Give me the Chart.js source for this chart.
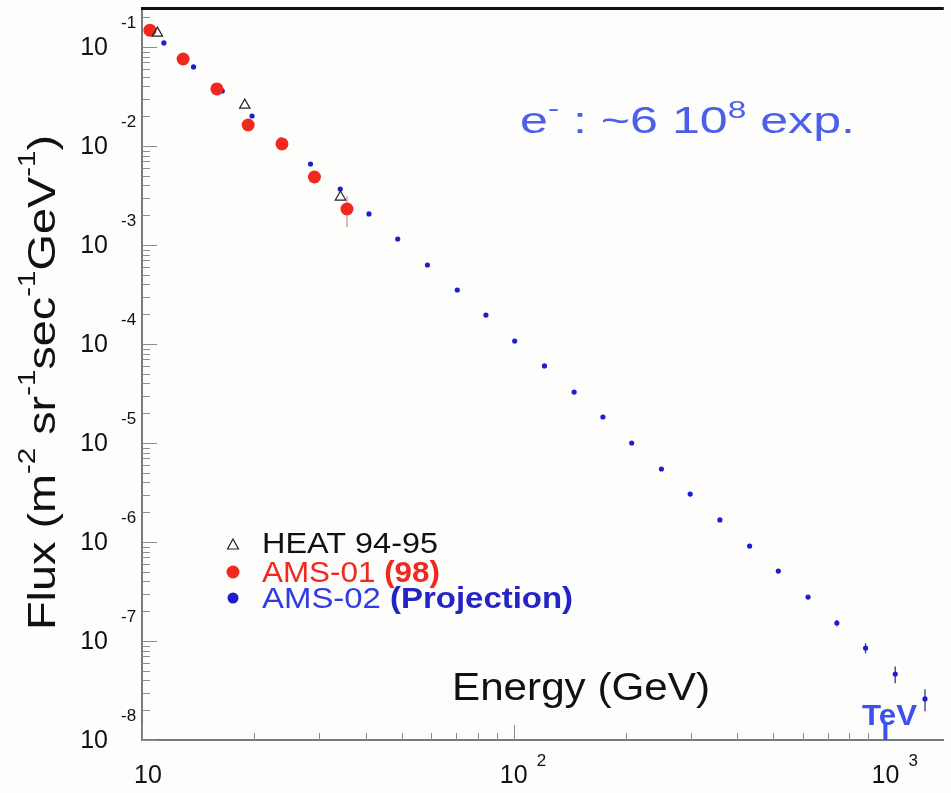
<!DOCTYPE html>
<html>
<head>
<meta charset="utf-8">
<script src="https://cdn.jsdelivr.net/npm/chart.js@4.4.1/dist/chart.umd.min.js"></script>
<style>
  body { margin: 0; background: #fdfdfb; }
  #wrap { width: 951px; height: 793px; position: relative; }
</style>
</head>
<body>
<div id="wrap"><canvas id="myChart"></canvas></div>
<script>
// Data (energy in GeV, flux in m^-2 sr^-1 sec^-1 GeV^-1)
const heatEnergy = [11.0, 18.9, 34.2];
const heatFlux = [0.138, 0.0259, 0.00305];

const ams01Energy = [10.5, 12.9, 15.9, 19.3, 23.8, 29.1, 35.6];
const ams01Flux = [0.148, 0.0756, 0.0377, 0.0163, 0.0105, 0.00486, 0.00231];
const ams01Err = [0, 0, 0, 0, 0, 0.0006, 0.0008];

const ams02Energy = [11.45, 13.76, 16.44, 19.77, 23.6, 28.4, 34.15, 40.8, 48.75, 58.6, 70.5, 84.2,
  100.6, 121, 145.4, 173.8, 207.7, 249.7, 298.4, 358.7, 431.2, 515.2, 619.4, 740.3, 884.6, 1063, 1278];
const ams02Flux = [0.110, 0.0629, 0.0360, 0.0201, 0.0115, 6.58e-3, 3.68e-3, 2.06e-3, 1.15e-3, 6.28e-4,
  3.51e-4, 1.96e-4, 1.07e-4, 6.0e-5, 3.27e-5, 1.83e-5, 1.0e-5, 5.46e-6, 3.05e-6, 1.67e-6, 9.1e-7,
  5.09e-7, 2.78e-7, 1.52e-7, 8.49e-8, 4.64e-8, 2.6e-8];
const ams02Err = [0, 0, 0, 0, 0, 0, 0, 0, 0, 0, 0, 0, 0, 0, 0, 0, 0, 0, 0, 0, 0,
  0, 1.2e-8, 1.1e-8, 1.0e-8, 9e-9, 6.5e-9];

// Axis ticks / labels
const xTickValues = [10, 100, 1000];
const xTickExp = ['', '2', '3'];
const yTickValues = [1e-1, 1e-2, 1e-3, 1e-4, 1e-5, 1e-6, 1e-7, 1e-8];
const yTickExp = ['-1', '-2', '-3', '-4', '-5', '-6', '-7', '-8'];

const FONT = '"Liberation Sans", Arial, Helvetica, sans-serif';
const RED = 'rgb(240,40,30)';
const BLUE = 'rgb(30,30,205)';
const TEXT_BLUE = 'rgb(75,95,235)';

function toPoints(xs, ys) {
  return xs.map((x, i) => ({x: x, y: ys[i]}));
}

// draws text made of pieces: [text, size, weight, color, rise]
function drawRich(ctx, parts, x, y, width, rotate) {
  ctx.save();
  let total = 0;
  parts.forEach(p => {
    ctx.font = p[2] + ' ' + p[1] + 'px ' + FONT;
    total += ctx.measureText(p[0]).width;
  });
  let sx = width ? width / total : 1;
  ctx.translate(x, y);
  if (rotate) ctx.rotate(rotate);
  ctx.scale(sx, 1);
  ctx.textBaseline = 'alphabetic';
  ctx.textAlign = 'left';
  let cx = 0;
  parts.forEach(p => {
    ctx.font = p[2] + ' ' + p[1] + 'px ' + FONT;
    ctx.fillStyle = p[3];
    ctx.fillText(p[0], cx, -(p[4] || 0));
    cx += ctx.measureText(p[0]).width;
  });
  ctx.restore();
}

function errorBars(ctx, xs, ys, es, color, ex, ey) {
  ctx.strokeStyle = color;
  ctx.lineWidth = 1.5;
  for (let i = 0; i < es.length; i++) {
    if (!es[i]) continue;
    let px = xs.getPixelForValue(ex[i]);
    ctx.beginPath();
    ctx.moveTo(px, ys.getPixelForValue(ey[i] - es[i]));
    ctx.lineTo(px, ys.getPixelForValue(ey[i] + es[i]));
    ctx.stroke();
  }
}

const decor = {
  id: 'decor',
  beforeDatasetsDraw(chart) {
    const ctx = chart.ctx;
    const xs = chart.scales.x, ys = chart.scales.y;
    ctx.save();
    errorBars(ctx, xs, ys, ams01Err, 'rgba(200,130,130,0.7)', ams01Energy, ams01Flux);
    errorBars(ctx, xs, ys, ams02Err, 'rgba(40,40,120,0.8)', ams02Energy, ams02Flux);
    ctx.restore();
  },
  afterDatasetsDraw(chart) {
    const ctx = chart.ctx;
    const a = chart.chartArea;
    const xs = chart.scales.x, ys = chart.scales.y;
    ctx.save();

    // inner tick marks
    ctx.strokeStyle = '#8c8c8c';
    ctx.lineWidth = 1;
    for (let d = -9; d <= 0; d++) {
      for (let k = 1; k <= 9; k++) {
        let v = k * Math.pow(10, d);
        if (v < ys.min || v > ys.max) continue;
        let py = Math.round(ys.getPixelForValue(v)) + 0.5;
        ctx.beginPath();
        ctx.moveTo(a.left, py);
        ctx.lineTo(a.left + (k === 1 ? 15 : 8), py);
        ctx.stroke();
      }
    }
    for (let d = 1; d <= 3; d++) {
      for (let k = 1; k <= 9; k++) {
        let v = k * Math.pow(10, d);
        if (v < xs.min || v > xs.max) continue;
        let px = Math.round(xs.getPixelForValue(v)) + 0.5;
        ctx.beginPath();
        ctx.moveTo(px, a.bottom);
        ctx.lineTo(px, a.bottom - (k === 1 ? 15 : 7));
        ctx.stroke();
      }
    }

    // top frame line
    ctx.fillStyle = '#111';
    ctx.fillRect(a.left - 1, a.top - 2, a.right - a.left + 1, 3);

    // y tick labels
    ctx.fillStyle = '#111';
    yTickValues.forEach((v, i) => {
      let py = ys.getPixelForValue(v);
      ctx.font = '25px ' + FONT;
      ctx.textAlign = 'right';
      ctx.textBaseline = 'middle';
      ctx.fillText('10', 108, py + 1);
      ctx.font = '17px ' + FONT;
      ctx.textAlign = 'left';
      ctx.fillText(yTickExp[i], 121, py - 24);
    });

    // x tick labels
    xTickValues.forEach((v, i) => {
      let px = xs.getPixelForValue(v);
      ctx.font = '25px ' + FONT;
      ctx.textAlign = 'center';
      ctx.textBaseline = 'middle';
      ctx.fillText('10', px + (xTickExp[i] ? 0 : 6), 776);
      if (xTickExp[i]) {
        ctx.font = '17px ' + FONT;
        ctx.textAlign = 'left';
        ctx.fillText(xTickExp[i], px + 23, 761);
      }
    });

    // axis titles
    drawRich(ctx, [['Energy (GeV)', 39, 'normal', '#111']], 452, 700, 258);
    drawRich(ctx, [
      ['Flux (m', 38, 'normal', '#111'], ['-2', 24, 'normal', '#111', 20],
      [' sr', 38, 'normal', '#111'], ['-1', 24, 'normal', '#111', 20],
      ['sec', 38, 'normal', '#111'], ['-1', 24, 'normal', '#111', 20],
      ['GeV', 38, 'normal', '#111'], ['-1', 24, 'normal', '#111', 20],
      [')', 38, 'normal', '#111']
    ], 55, 630, 495, -Math.PI / 2);

    // annotation
    drawRich(ctx, [
      ['e', 36, 'normal', TEXT_BLUE], ['-', 24, 'normal', TEXT_BLUE, 17],
      [' : ~6 10', 36, 'normal', TEXT_BLUE], ['8', 24, 'normal', TEXT_BLUE, 15],
      [' exp.', 36, 'normal', TEXT_BLUE]
    ], 520, 133, 335);

    // legend
    ctx.strokeStyle = '#222';
    ctx.lineWidth = 1.2;
    ctx.beginPath();
    ctx.moveTo(233, 539); ctx.lineTo(238.5, 549); ctx.lineTo(227.5, 549); ctx.closePath();
    ctx.stroke();
    ctx.fillStyle = RED;
    ctx.beginPath(); ctx.arc(233, 572, 6.5, 0, Math.PI * 2); ctx.fill();
    ctx.fillStyle = BLUE;
    ctx.beginPath(); ctx.arc(233, 598, 5.5, 0, Math.PI * 2); ctx.fill();
    drawRich(ctx, [['HEAT 94-95', 29, 'normal', '#111']], 262, 553, 176);
    drawRich(ctx, [['AMS-01 ', 29, 'normal', RED], ['(98)', 29, 'bold', RED]], 262, 582, 178);
    drawRich(ctx, [['AMS-02 ', 29, 'normal', 'rgb(50,60,230)'], ['(Projection)', 29, 'bold', 'rgb(35,35,200)']], 262, 608, 311);

    // TeV marker
    let tev = xs.getPixelForValue(1000);
    ctx.fillStyle = 'rgb(60,80,235)';
    ctx.fillRect(tev - 2, 722, 4, a.bottom - 722);
    drawRich(ctx, [['TeV', 30, 'bold', 'rgb(60,80,235)']], 862, 725, 55);

    ctx.restore();
  }
};

const ctx = document.getElementById('myChart');

new Chart(ctx, {
  type: 'scatter',
  data: {
    datasets: [{
      label: 'HEAT 94-95',
      data: toPoints(heatEnergy, heatFlux),
      pointStyle: 'triangle',
      pointRadius: 6,
      borderColor: '#222',
      borderWidth: 1.2,
      backgroundColor: 'rgba(255,255,255,0)'
    }, {
      label: 'AMS-01 (98)',
      data: toPoints(ams01Energy, ams01Flux),
      pointRadius: 6.5,
      borderWidth: 0,
      backgroundColor: RED
    }, {
      label: 'AMS-02 (Projection)',
      data: toPoints(ams02Energy, ams02Flux),
      pointRadius: 2.6,
      borderWidth: 0,
      backgroundColor: BLUE
    }]
  },
  options: {
    responsive: true,
    maintainAspectRatio: false,
    animation: false,
    layout: { padding: { left: 142, top: 9, right: 0, bottom: 53 } },
    plugins: { legend: { display: false }, tooltip: { enabled: false } },
    scales: {
      x: {
        type: 'logarithmic',
        min: 10,
        max: 1436,
        grid: { display: false, drawTicks: false },
        border: { display: true, color: '#7a7a7a', width: 2 },
        ticks: { display: false }
      },
      y: {
        type: 'logarithmic',
        min: 1e-8,
        max: 0.242,
        grid: { display: false, drawTicks: false },
        border: { display: true, color: '#7a7a7a', width: 2 },
        ticks: { display: false }
      }
    }
  },
  plugins: [decor]
});
</script>
</body>
</html>
